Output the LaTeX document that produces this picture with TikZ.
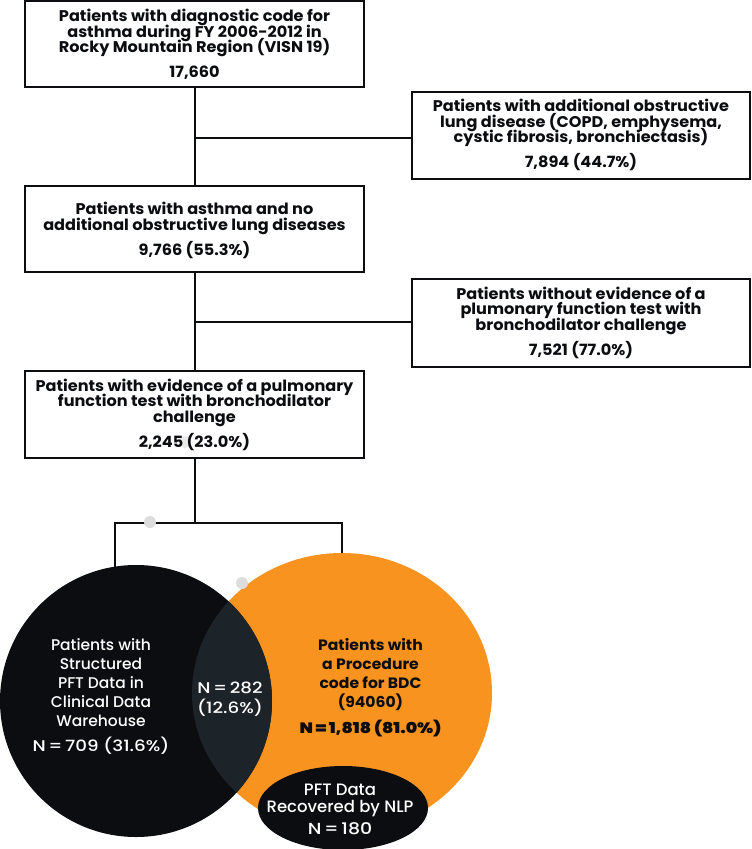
\documentclass[tikz,border=0pt]{standalone}
\usepackage{fontspec}
\newfontfamily\boxfont[FakeStretch=1.04]{Poppins}
\newfontfamily\medfont{Poppins Medium}
\newfontfamily\nummed[FakeStretch=1.18]{Poppins Medium}
\newfontfamily\numbold[FakeStretch=1.15]{Poppins SemiBold}
\definecolor{inkblack}{HTML}{0B0D10}
\definecolor{slate}{HTML}{1C2329}
\definecolor{vorange}{HTML}{F7931E}
\definecolor{dotgray}{HTML}{DDDDDD}
\lineskiplimit=-100pt
\lineskip=0pt
\tikzset{
  flowbox/.style={draw=inkblack, line width=2pt, inner sep=0pt},
  boxtext/.style={anchor=base, inner sep=0pt, align=center, text=inkblack,
    font=\boxfont\bfseries\fontsize{15.5}{15.7}\selectfont},
  conn/.style={draw=inkblack, line width=2pt},
  circtext/.style={anchor=base, inner sep=0pt, align=center},
  blob/.style={fill=dotgray, draw=none}
}
\begin{document}
\begin{tikzpicture}[x=1pt,y=-1pt]
\useasboundingbox (0,0) rectangle (752,849);
% boxes
\node[flowbox, minimum width=339pt, minimum height=86pt] (b1) at (194.5,44) {};
\node[flowbox, minimum width=338pt, minimum height=87pt] (b2) at (581,135.5) {};
\node[flowbox, minimum width=339pt, minimum height=86pt] (b3) at (194.5,229) {};
\node[flowbox, minimum width=338pt, minimum height=88pt] (b4) at (581,323) {};
\node[flowbox, minimum width=339pt, minimum height=87pt] (b5) at (194.5,414.5) {};
% connectors
\coordinate (j1) at (195,138);
\coordinate (j2) at (195,322);
\coordinate (j3) at (195,523);
\coordinate (jl) at (115,523);
\coordinate (jr) at (342,523);
\draw[conn] (b1.south -| j1) -- (b3.north -| j1);
\draw[conn] (j1) -- (j1 -| b2.west);
\draw[conn] (b3.south -| j2) -- (b5.north -| j2);
\draw[conn] (j2) -- (j2 -| b4.west);
\draw[conn] (b5.south -| j3) -- (j3);
\draw[conn, line cap=rect] (jl) -- (jr);
% venn
\coordinate (cb) at (136,701);
\coordinate (co) at (342,693);
\coordinate (cn) at (343,808);
\fill[vorange] (co) ellipse [x radius=150, y radius=140];
\fill[inkblack] (cb) circle [radius=136];
\begin{scope}
\clip (cb) circle [radius=136];
\fill[slate] (co) ellipse [x radius=150, y radius=140];
\end{scope}
\fill[inkblack] (cn) ellipse [x radius=85, y radius=42];
\draw[conn] (jl) -- (115,567);
\draw[conn] (jr) -- (342,553);
% blobs
\fill[blob] (150,522) circle [radius=6];
\fill[blob] (242,583) circle [radius=6];
\fill[blob,opacity=0.6] (185,442) circle [radius=6];
% box texts (anchor = baseline of last line)
\node[boxtext] (t1) at (194.5,77.3)
  {Patients with diagnostic code for\\asthma during FY 2006-2012 in\\Rocky Mountain Region (VISN 19)\\[8.8pt]17,660};
\node[boxtext] (t2) at (581,167.3)
  {Patients with additional obstructive\\lung disease (COPD, emphysema,\\cystic fibrosis, bronchiectasis)\\[8.8pt]7,894 (44.7\%)};
\node[boxtext] (t3) at (194.5,255)
  {Patients with asthma and no\\additional obstructive lung diseases\\[8.8pt]9,766 (55.3\%)};
\node[boxtext] (t4) at (581,355)
  {Patients without evidence of a\\plumonary function test with\\bronchodilator challenge\\[8.8pt]7,521 (77.0\%)};
\node[boxtext] (t5) at (194.5,447)
  {Patients with evidence of a pulmonary\\function test with bronchodilator\\challenge\\[8.8pt]2,245 (23.0\%)};
% circle texts
\node[circtext, text=white, font=\medfont\fontsize{15.5}{19}\selectfont] (tb) at (101,751)
  {Patients with\\Structured\\PFT Data in\\Clinical Data\\Warehouse\\[6pt]{\nummed\fontsize{15.5}{19}\selectfont N\,=\,709 (31.6\%)}};
\node[circtext, text=white, font=\nummed\fontsize{15.5}{20}\selectfont] (to) at (230,713)
  {N\,=\,282\\(12.6\%)};
\node[circtext, text=inkblack, font=\boxfont\bfseries\fontsize{15}{19}\selectfont] (tr) at (370.5,733)
  {Patients with\\a Procedure\\code for BDC\\(94060)\\[7pt]{\numbold\fontsize{15}{19}\selectfont N\,=\,1,818 (81.0\%)}};
\node[circtext, text=white, font=\medfont\fontsize{16.5}{17}\selectfont] (tn) at (340,834)
  {PFT Data\\Recovered by NLP\\[5pt]{\nummed\fontsize{16}{17}\selectfont N\,=\,180}};
\end{tikzpicture}
\end{document}
